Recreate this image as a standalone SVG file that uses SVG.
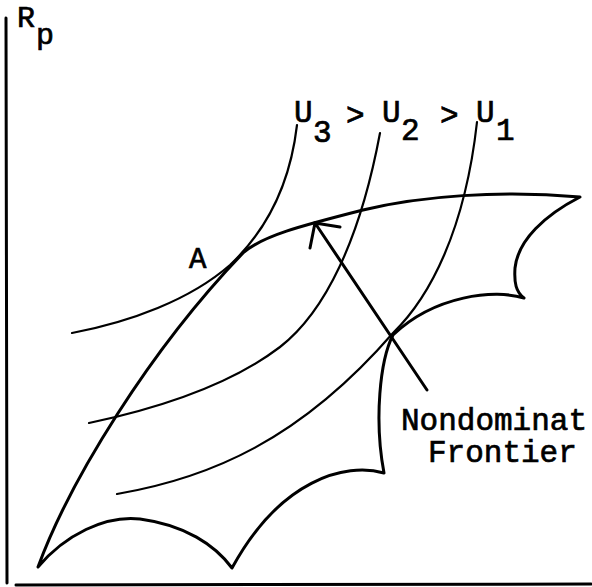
<svg xmlns="http://www.w3.org/2000/svg" width="592" height="587" viewBox="0 0 592 587">
<style>
.ax{fill:none;stroke:#000;stroke-width:3;stroke-linecap:round}
.reg{fill:none;stroke:#000;stroke-width:3;stroke-linejoin:round;stroke-linecap:round}
.u{fill:none;stroke:#000;stroke-width:2.2;stroke-linecap:round}
.arr{fill:none;stroke:#000;stroke-width:3;stroke-linecap:round}
.t{font-family:"Liberation Mono","Courier New",monospace;font-size:31px;fill:#000;stroke:#000;stroke-width:0.7}
</style>
<rect width="592" height="587" fill="#fff"/>
<g id="axes">
<path class="ax" d="M6,18 L7,583"/>
<path class="ax" d="M16,585 L591,584"/>
<text class="t" x="17" y="27" style="font-size:30px">R</text>
<text class="t" x="36" y="44" style="font-size:30px">p</text>
</g>
<g id="region">
<path class="reg" d="M38,567 C70,480 150,350 243,253 C262,236 300,226 363,210 C420,196 500,190 580,197 C545,215 518,240 515,268 C514,283 516,292 524,298 C495,289 435,295 393,335 C380,360 374,420 384,473 C345,462 280,480 232,568 C215,545 185,525 140,519 C105,515 65,535 38,567 Z"/>
</g>
<g id="U3">
<path class="u" d="M72,333 C130,322 190,300 230,265 C265,232 290,185 297,125"/>
</g>
<g id="U2">
<path class="u" d="M89,423 C160,408 230,385 280,347 C325,312 360,240 380,133"/>
</g>
<g id="U1">
<path class="u" d="M117,494 C210,478 300,440 393,333 C430,297 465,230 477,122"/>
</g>
<g id="labels">
<text class="t" x="294" y="122">U</text>
<text class="t" x="313" y="142">3</text>
<text class="t" x="346" y="125">&gt;</text>
<text class="t" x="382" y="122">U</text>
<text class="t" x="401" y="140">2</text>
<text class="t" x="440" y="125">&gt;</text>
<text class="t" x="476" y="122">U</text>
<text class="t" x="496" y="140">1</text>
<text class="t" x="189" y="268" style="font-size:29px">A</text>
</g>
<g id="connectors">
<path class="arr" d="M427,390 L315,223 M310,248 L315,223 L340,227"/>
</g>
<g id="frontier-label">
<text class="t" x="401" y="430">Nondominat</text>
<text class="t" x="428" y="462">Frontier</text>
</g>
</svg>
